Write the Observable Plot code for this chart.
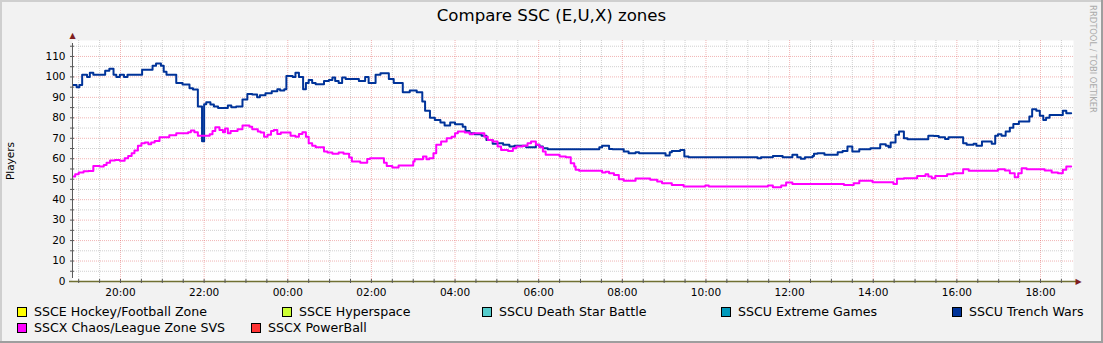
<!DOCTYPE html>
<html><head><meta charset="utf-8">
<script src="https://cdn.jsdelivr.net/npm/d3@7"></script>
<script src="https://cdn.jsdelivr.net/npm/@observablehq/plot@0.6"></script>
<style>
html,body{margin:0;padding:0;background:#F2F2F2;}
#wrap{position:relative;width:1103px;height:343px;background:#F2F2F2;overflow:hidden;font-family:"DejaVu Sans",sans-serif;color:#000;}
.sh{position:absolute;}
#title{position:absolute;left:0;top:8px;width:1103px;text-align:center;font-size:16.6px;line-height:16px;white-space:nowrap;}
#ylab{position:absolute;left:10px;top:161px;font-size:10.5px;line-height:12px;white-space:nowrap;transform:translate(-50%,-50%) rotate(-90deg);}
#wm{position:absolute;left:1093px;top:59px;font-size:8.4px;line-height:10px;color:#ABABAB;white-space:nowrap;transform:translate(-50%,-50%) rotate(90deg);}
#chart{position:absolute;left:0;top:30px;}
.lg{position:absolute;font-size:12.6px;line-height:14px;white-space:nowrap;}
.sw{position:absolute;width:8px;height:8px;border:1px solid #000;}
</style></head>
<body>
<div id="wrap">
  <div class="sh" style="left:0;top:0;width:1103px;height:2px;background:#CFCFCF"></div>
  <div class="sh" style="left:0;top:0;width:2px;height:343px;background:#CFCFCF"></div>
  <div class="sh" style="left:0;top:341px;width:1103px;height:2px;background:#9E9E9E"></div>
  <div class="sh" style="left:1101px;top:0;width:2px;height:343px;background:#9E9E9E"></div>
  <div id="title"></div>
  <div id="ylab"></div>
  <div id="wm"></div>
  <div id="chart"></div>
  <div id="legend"></div>
</div>
<script>
const titleText = "Compare SSC (E,U,X) zones";
const yLabel = "Players";
const watermark = "RRDTOOL / TOBI OETIKER";

const legendNames = ["SSCE Hockey/Football Zone","SSCE Hyperspace","SSCU Death Star Battle","SSCU Extreme Games","SSCU Trench Wars","SSCX Chaos/League Zone SVS","SSCX PowerBall"];
const legendColors = ["#FFFF00","#CCFF33","#55CCCC","#0099BB","#003399","#FF00FF","#FF3333"];

const yTicks = [0,10,20,30,40,50,60,70,80,90,100,110];

// SSCU Trench Wars (step starts, HH:MM)
const trenchTimes = ["18:52","18:57","19:01","19:05","19:12","19:16","19:21","19:38","19:44","19:50","19:54","19:59","20:05","20:10","20:31","20:46","20:51","20:58","21:02","21:06","21:20","21:29","21:39","21:44","21:51","21:57","22:00","22:03","22:09","22:14","22:20","22:34","22:39","22:46","22:55","23:02","23:09","23:16","23:20","23:28","23:37","23:45","23:49","23:55","23:58","00:07","00:11","00:16","00:22","00:26","00:30","00:35","00:40","00:52","00:59","01:04","01:08","01:13","01:18","01:23","01:42","01:51","01:56","02:06","02:13","02:25","02:32","02:45","02:55","03:05","03:13","03:17","03:24","03:31","03:39","03:45","03:53","04:00","04:11","04:15","04:21","04:28","04:38","04:45","04:54","05:01","05:09","05:18","05:25","05:42","05:56","06:01","06:06","06:13","07:27","07:31","07:41","07:46","08:02","08:09","08:19","08:24","09:02","09:08","09:11","09:23","09:29","09:35","11:14","11:19","11:36","11:50","12:04","12:11","12:16","12:22","12:33","12:35","12:40","12:50","13:09","13:16","13:23","13:30","13:40","13:56","14:10","14:18","14:22","14:25","14:32","14:37","14:44","14:49","15:19","15:27","15:34","15:43","15:48","16:09","16:14","16:24","16:28","16:36","16:50","16:55","16:59","17:04","17:10","17:16","17:21","17:29","17:44","17:48","17:54","17:59","18:04","18:08","18:13","18:32","18:37","18:44"];
const trenchValues = [96,95,96,101,100,102,101,103,104,101,100,101,100,101,103.5,105.5,106.5,105.5,102.5,101,97,96.3,94.5,93.8,85.5,68.5,86.7,87.6,86.5,85.5,84.8,86,85.2,85.5,89,91.7,91.4,90,91,92,93,94,93.3,94,100.5,100,102,100,94,97,98.5,97,96.4,98,98.5,99.7,98,97,99.7,99,98,100,97,101,101.8,99,97,92.5,93.3,92.5,88,83.5,80,79,77.7,76.2,77.7,76.9,75.7,73.6,72.5,72,71.2,69.2,67.3,67.6,66.8,66,66.4,65.6,66.8,66,65.1,64.7,65.6,66.3,64.8,64.7,63.5,62.7,63.2,62.7,61.6,63.2,63.8,64.3,61.1,60.7,60.3,60.7,61.4,60.7,61.9,60.7,60,60.7,61.4,62.4,62.7,61.9,63.2,63.8,66,63.5,64.7,65.1,67.1,66.4,65.6,68,71.7,73.3,70,69.5,71.3,71.1,70.5,69.7,70.5,67.6,66.8,67.3,66.3,68.4,67.3,71.3,72,71.3,73.3,75.2,77,78.2,80.6,84.2,83.5,81,79,80,81.4,83.5,82.2,82.2];

// SSCX Chaos/League Zone SVS
const chaosTimes = ["18:52","18:55","19:00","19:07","19:14","19:21","19:30","19:36","19:40","19:45","19:52","19:59","20:06","20:11","20:16","20:20","20:25","20:30","20:35","20:40","20:44","20:49","20:56","21:10","21:20","21:37","21:41","21:46","21:51","22:08","22:12","22:16","22:22","22:27","22:30","22:34","22:38","22:48","22:55","23:05","23:09","23:17","23:21","23:26","23:31","23:36","23:40","23:45","23:50","00:04","00:11","00:16","00:21","00:26","00:30","00:35","00:40","00:52","00:57","01:04","01:13","01:20","01:28","01:32","01:44","01:54","01:58","02:18","02:22","02:30","02:39","03:00","03:02","03:14","03:19","03:23","03:29","03:33","03:40","03:48","03:55","04:00","04:04","04:14","04:21","04:26","04:42","04:47","04:54","05:01","05:06","05:16","05:23","05:28","05:37","05:44","05:49","05:56","06:01","06:06","06:10","06:30","06:39","06:46","06:51","06:53","06:58","07:31","07:36","07:41","07:48","07:55","08:02","08:19","08:40","08:50","08:57","09:11","09:28","09:59","10:04","11:29","11:36","11:48","11:55","12:04","12:21","13:18","13:32","13:40","13:59","14:29","14:34","14:44","15:03","15:15","15:19","15:24","15:29","15:46","15:55","16:09","16:17","16:59","17:09","17:16","17:23","17:28","17:33","17:40","18:06","18:16","18:25","18:32","18:37","18:44"];
const chaosValues = [51.3,52.4,53.3,53.9,54,56.5,56.2,57,58.1,59.1,59.4,59,60.3,61.4,62.7,64,66.3,67.6,68,67.1,67.9,68.7,70.5,71.5,72.5,73,73.8,73,71.2,72,73.6,75.4,74.1,73,74.8,72.5,73.6,74.4,76.2,75.7,74.4,73.3,72.8,70.8,71.7,73.6,74.1,72.1,72.8,71.2,70.8,72.1,73,70.8,67.6,66.3,65.6,63.5,63,62.4,63,62.4,60.6,58.6,58.1,59.9,60.3,58.1,56.5,55.7,56.7,58.6,59.8,61.1,59.8,60.3,62.7,66.8,68.4,70,70.8,72.5,73.3,72.8,72,72.5,70.8,69.2,68.4,66,64.3,63.8,65.1,66,66.3,67.6,68.4,66.8,65.6,63.5,61.9,61.1,60.7,57.8,56.2,54.6,54.1,53.3,53.7,52.9,52.1,50,49.3,50.3,49.7,48.9,48,47.2,46.4,46.9,46.4,46.9,46.1,46.9,48.4,47.7,47.6,47.2,48,49.3,48.5,47.6,50.2,50.5,51.6,52.4,51.3,50.5,51.6,52.4,52.9,54.9,54.1,54.9,54.2,52.9,50.9,52.9,55.4,54.9,54.2,53.3,52.9,54.6,56.2,56.2];

const parseT = s => {
  const [h, m] = s.split(":").map(Number);
  const day = (h * 60 + m < 18 * 60 + 50) ? 2 : 1;
  return new Date(2024, 0, day, h, m);
};
const start = new Date(2024, 0, 1, 18, 51, 8);
const end = new Date(2024, 0, 2, 18, 47, 20);
const yMax = 117.8;

const trench = trenchTimes.map((t, i) => ({t: parseT(t), v: trenchValues[i]}));
const chaos = chaosTimes.map((t, i) => ({t: parseT(t), v: chaosValues[i]}));

const majorX = d3.timeHour.every(2).range(start, end);
const minorX = d3.timeMinute.every(30).range(start, end).filter(d => !(d.getMinutes() === 0 && d.getHours() % 2 === 0));
const majorY = yTicks.filter(v => v > 0);
const minorY = d3.range(5, yMax, 10);
const allX = d3.timeMinute.every(30).range(start, end);
const allY = d3.range(5, yMax, 5);

document.getElementById("title").textContent = titleText;
document.getElementById("ylab").textContent = yLabel;
document.getElementById("wm").textContent = watermark;

const gridGrey = "rgba(143,143,143,0.42)";
const gridRed = "rgba(222,79,79,0.42)";
const axisCol = "#5a5a5a";
const arrowCol = "#801F1F";

const chart = Plot.plot({
  width: 1103, height: 270,
  marginLeft: 72, marginRight: 30, marginTop: 10, marginBottom: 19,
  style: {background: "transparent", fontFamily: "DejaVu Sans", fontSize: "10.5px", color: "#000", overflow: "visible"},
  x: {type: "time", domain: [start, end]},
  y: {domain: [0, yMax]},
  marks: [
    Plot.frame({fill: "white", stroke: null}),
    Plot.ruleX(minorX, {stroke: gridGrey, strokeDasharray: "1,1"}),
    Plot.ruleY(minorY, {stroke: gridGrey, strokeDasharray: "1,1"}),
    Plot.ruleX(majorX, {stroke: gridRed, strokeDasharray: "1,1"}),
    Plot.ruleY(majorY, {stroke: gridRed, strokeDasharray: "1,1"}),
    Plot.line(trench, {x: "t", y: "v", curve: "step-after", stroke: legendColors[4], strokeWidth: 2}),
    Plot.line(chaos, {x: "t", y: "v", curve: "step-after", stroke: legendColors[5], strokeWidth: 2}),
    Plot.ruleY([0], {x1: start, x2: end, insetLeft: -3, insetRight: -3, stroke: "#707033", strokeWidth: 1.5}),
    Plot.ruleX([start], {y1: 0, y2: yMax, insetTop: -3, insetBottom: -3, stroke: axisCol}),
    Plot.ruleY(allY, {x1: start, x2: start, insetLeft: -2, insetRight: -2, stroke: axisCol}),
    Plot.ruleX(allX, {y1: 0, y2: 0, insetTop: -2, insetBottom: -2, stroke: axisCol}),
    Plot.text([0], {x: () => start, y: () => yMax, text: () => "\u25B2", dy: -5, fontSize: 8, fill: arrowCol}),
    Plot.text([0], {x: () => end, y: () => 0, text: () => "\u25B6", dx: 5, fontSize: 8, fill: arrowCol}),
    Plot.axisX({ticks: majorX, tickFormat: d3.timeFormat("%H:%M"), tickSize: 0, tickPadding: 7, fontSize: 10.5, label: null}),
    Plot.axisY({ticks: yTicks, tickSize: 0, tickPadding: 7, fontSize: 10.5, label: null})
  ]
});
document.getElementById("chart").appendChild(chart);

// legend
const pos = [[17, 306], [282, 306], [482, 306], [721, 306], [952, 306], [17, 322], [251, 322]];
const lg = document.getElementById("legend");
legendNames.forEach((n, i) => {
  const [x, y] = pos[i];
  const sw = document.createElement("div");
  sw.className = "sw";
  sw.style.left = x + "px"; sw.style.top = (y + 1) + "px"; sw.style.background = legendColors[i];
  lg.appendChild(sw);
  const t = document.createElement("div");
  t.className = "lg";
  t.style.left = (x + 17) + "px"; t.style.top = (y - 1) + "px";
  t.textContent = n;
  lg.appendChild(t);
});
</script>
</body></html>
